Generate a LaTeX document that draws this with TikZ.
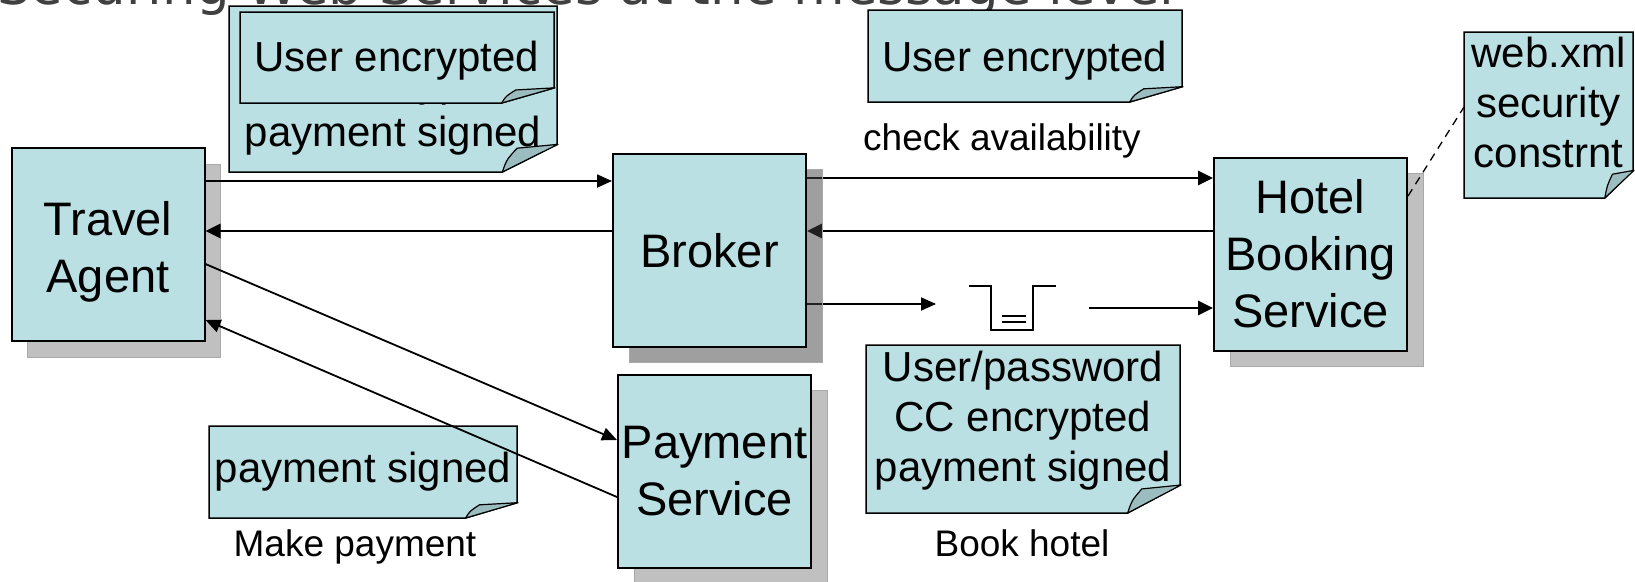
\documentclass[tikz,border=0pt]{standalone}
\usepackage{fontspec}
\setmainfont{Liberation Sans}
\newfontfamily\titlefont{DejaVu Sans}
\usetikzlibrary{arrows.meta}

\definecolor{boxfill}{HTML}{BBE0E3}
\definecolor{flapfill}{HTML}{9BBDC0}
\definecolor{shadowgray}{HTML}{C0C0C0}
\definecolor{shadowedge}{HTML}{A9A9A9}
\definecolor{titlegray}{HTML}{404040}

\pgfdeclarelayer{notes}
\pgfdeclarelayer{links}
\pgfdeclarelayer{shade}
\pgfsetlayers{notes,links,shade,main}

\tikzset{
  svcbox/.style={draw=black, line width=2pt, fill=boxfill, inner sep=0pt,
    minimum width=193pt, minimum height=193pt},
  boxtext/.style={font=\fontsize{47pt}{57pt}\selectfont, align=center, inner sep=0pt},
  shadowbox/.style={draw=shadowedge, line width=1pt, fill=shadowgray, inner sep=0pt,
    minimum width=193pt, minimum height=193pt},
  glassshadow/.style={draw=shadowedge, line width=1pt, fill=black!75, fill opacity=0.5,
    inner sep=0pt, minimum width=193pt, minimum height=193pt},
  notebody/.style={draw=black, line width=1.5pt, fill=boxfill, line join=miter},
  notefold/.style={draw=black, line width=1.2pt, fill=flapfill, line join=round},
  notetext/.style={font=\fontsize{42pt}{50pt}\selectfont, align=center, inner sep=0pt},
  lbl/.style={font=\fontsize{37pt}{44pt}\selectfont, inner sep=0pt, anchor=base},
  thinflow/.style={line width=1.8pt, -{Triangle[length=15pt,width=13pt]}},
  thickflow/.style={line width=2.8pt, -{Triangle[length=15pt,width=14pt]}},
  qline/.style={line width=2pt},
  linkdash/.style={line width=1.3pt, dash pattern=on 8pt off 6pt},
}

% folded-corner note: name, top-left x y, bottom-right x y, text centre y, text
\newcommand\foldnote[7]{%
  \pgfmathsetmacro\nfdx{(#4-#2)/6}%
  \pgfmathsetmacro\nfdy{(#5-#3)/6}%
  \coordinate (#1-nw) at (#2,#3);
  \coordinate (#1-se) at (#4,#5);
  \draw[notebody] (#2,#3) -- (#4,#3) -- (#4,#5-\nfdy) -- (#4-\nfdx,#5) -- (#2,#5) -- cycle;
  \draw[notefold] (#4-\nfdx,#5) .. controls (#4-0.92*\nfdx,#5-0.45*\nfdy) ..
    (#4-0.73*\nfdx,#5-0.86*\nfdy) -- (#4+1,#5-\nfdy) -- cycle;
  \node[notetext] (#1) at ({(#2+#4)/2},#6) {#7};
}

\begin{document}
\begin{tikzpicture}[x=1pt,y=-1pt]
\useasboundingbox (0,0) rectangle (1635,581);

% services
\node[svcbox] (ta) at (108,244.5) {};
\node[boxtext] (ta-txt) at (108,251.5) {Travel\\Agent};
\node[svcbox] (broker) at (709.5,250) {};
\node[boxtext] (broker-txt) at (709.5,251) {Broker};
\node[svcbox] (pay) at (714.5,471) {};
\node[boxtext] (pay-txt) at (714.5,471.5) {Payment\\Service};
\node[svcbox] (hotel) at (1310.5,254) {};
\node[boxtext] (hotel-txt) at (1310.5,254) {Hotel\\Booking\\Service};

\begin{pgfonlayer}{notes}
  % slide title, running off the top edge
  \node[font=\titlefont\fontsize{53pt}{60pt}\selectfont, text=titlegray,
    anchor=base west, inner sep=0pt] (title) at (-3,4)
    {Securing Web Services at the message level};

  % drop shadows
  \node[shadowbox] (ta-sh) at (124,260.5) {};
  \node[shadowbox] (pay-sh) at (730.5,487) {};
  \node[shadowbox] (hotel-sh) at (1327,270) {};

  % message annotations
  \foldnote{mixnote}{229}{6}{557}{172}{86}{User encrypted\\CC encrypted\\payment signed}
  \foldnote{usernote}{240}{12}{554}{103}{61}{User encrypted}
  \foldnote{availnote}{868}{10}{1182}{102}{61}{User encrypted}
  \foldnote{webnote}{1464}{32}{1633}{198}{102}{web.xml\\security\\constrnt}
  \foldnote{booknote}{866}{345}{1180}{513}{421}{User/password\\CC encrypted\\payment signed}
  \foldnote{signnote}{209}{426}{517}{518}{471.5}{payment signed}

  % flow labels
  \node[lbl] (check-lbl) at (1002,150) {check availability};
  \node[lbl] (pay-lbl) at (355,556) {Make payment};
  \node[lbl] (book-lbl) at (1022,556) {Book hotel};
\end{pgfonlayer}

\begin{pgfonlayer}{links}
  \draw[thinflow] (ta.east |- 0,181) -- (broker.west |- 0,181);
  \draw[thickflow] (broker.west |- 0,231) -- (ta.east |- 0,231);
  \draw[thickflow] (broker.east |- 0,178) -- (hotel.west |- 0,178);
  \draw[thickflow] (hotel.west |- 0,231) -- (broker.east |- 0,231);
  \draw[thinflow] (ta.east |- 0,264) -- (pay.west |- 0,440);
  \draw[thinflow] (pay.west |- 0,497) -- (ta.east |- 0,320);

  % queue between broker and hotel
  \coordinate (qin) at (936,304);
  \coordinate (qout) at (1089,308);
  \draw[thinflow] (broker.east |- qin) -- (qin);
  \draw[thickflow] (qout) -- (hotel.west |- qout);
  \draw[qline] (969,286) -- (991,286) -- (991,330) -- (1033,330) -- (1033,286) -- (1056,286);
  \draw[qline] (1002,316) -- (1026,316) (1002,322) -- (1026,322);

  % deployment descriptor link
  \draw[linkdash] (hotel.east |- 0,196) -- (webnote-nw |- 0,107);
\end{pgfonlayer}

\begin{pgfonlayer}{shade}
  \node[glassshadow] (broker-sh) at (725.5,266) {};
\end{pgfonlayer}
\end{tikzpicture}
\end{document}
